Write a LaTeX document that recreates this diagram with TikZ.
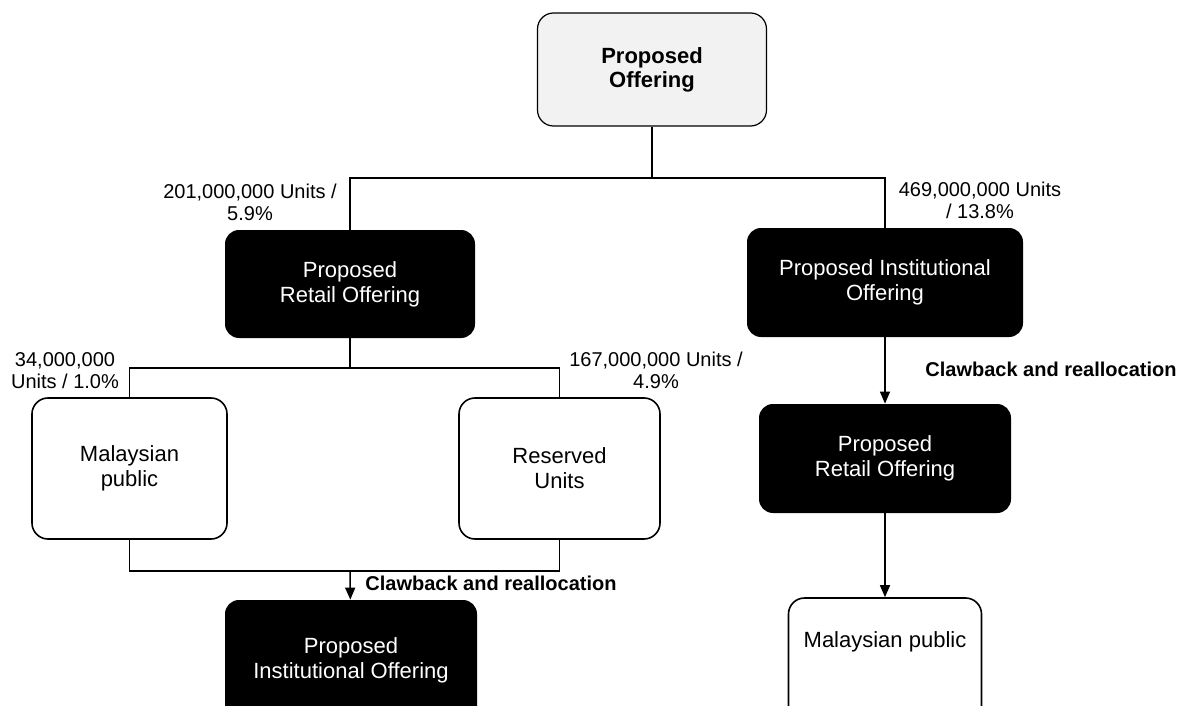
\documentclass[tikz,border=0pt]{standalone}
\usepackage{fontspec}
\setmainfont{Liberation Sans}
\usetikzlibrary{arrows.meta, positioning, calc}

\begin{document}
\begin{tikzpicture}[
    x=0.5pt, y=-0.5pt,
    every node/.style={font=\fontsize{11}{12.5}\selectfont},
    topbox/.style={draw, line width=0.6pt, rounded corners=8pt, fill=gray!10, align=center, font=\bfseries\fontsize{11}{12}\selectfont},
    darkbox/.style={fill=black, text=white, rounded corners=7pt, align=center},
    lightbox/.style={draw, line width=0.8pt, rounded corners=8pt, fill=white, align=center},
    wire/.style={line width=0.75pt},
    arrowdown/.style={wire, -{Triangle[length=6pt, width=5pt]}},
    units/.style={align=center, inner sep=0pt, font=\fontsize{10}{11}\selectfont},
    clawlabel/.style={anchor=west, inner sep=0pt, font=\bfseries\fontsize{10}{11}\selectfont}
  ]

    \useasboundingbox (0,0) rectangle (1179,706);

    % Top of the tree
    \node[topbox, minimum width=114.5pt, minimum height=56.5pt] (offer) at (652,69.5) {Proposed\\Offering};

    % Second level
    \node[darkbox, minimum width=125pt, minimum height=54pt] (retail) at (350,284) {Proposed\\Retail Offering};
    \node[darkbox, minimum width=138pt, minimum height=54.5pt] (inst) at (885,282.5) {Proposed Institutional\\Offering};

    % Retail split
    \node[lightbox, minimum width=97.5pt, minimum height=70.5pt] (public) at (129.5,468.5) {Malaysian\\public};
    \node[lightbox, minimum width=100.5pt, minimum height=70.5pt] (reserved) at (559.5,468.5) {Reserved\\Units};

    % Clawback targets
    \node[darkbox, minimum width=126pt, minimum height=60pt] (instLow) at (351,660) {Proposed\\Institutional Offering};
    \node[darkbox, minimum width=126pt, minimum height=54.5pt] (retailLow) at (885,458.5) {Proposed\\Retail Offering};
    \node[lightbox, minimum width=96.5pt, minimum height=65pt] (publicLow) at (885,663) {};
    \node (publicLowText) at (885,642) {Malaysian public};

    % Branch points
    \coordinate (split) at (652,178);
    \coordinate (splitRetail) at (350,368);
    \coordinate (join) at (350,571);

    \draw[wire] (offer) -- (split);
    \draw[wire] (retail.north) |- (split) -| (inst.north);
    \draw[wire] (retail) -- (splitRetail);
    \draw[wire] (public.north) |- (splitRetail) -| (reserved.north);
    \draw[wire] (public.south) |- (join) -| (reserved.south);
    \draw[arrowdown] (join) -- (instLow);
    \draw[arrowdown] (inst) -- (retailLow);
    \draw[arrowdown] (retailLow) -- (publicLow);

    % Unit counts
    \node[units] (unitsRetail) at (250,202) {201,000,000 Units /\\5.9\%};
    \node[units] (unitsInst) at (980,200) {469,000,000 Units\\/ 13.8\%};
    \node[units] (unitsPublic) at (65,371) {34,000,000\\Units / 1.0\%};
    \node[units] (unitsReserved) at (656,370) {167,000,000 Units /\\4.9\%};

    % Clawback notes
    \node[clawlabel] (clawRight) at (925,369) {Clawback and reallocation};
    \node[clawlabel] (clawLeft) at (365,583) {Clawback and reallocation};

\end{tikzpicture}
\end{document}
